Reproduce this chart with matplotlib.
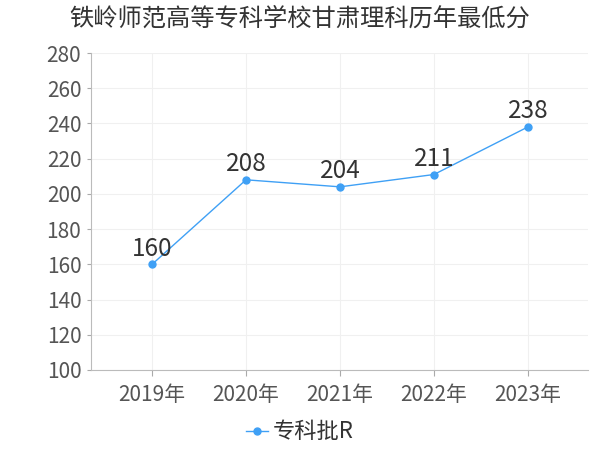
import matplotlib
matplotlib.use("Agg")
import matplotlib.pyplot as plt

plt.rcParams['font.family'] = ['Noto Sans CJK SC', 'DejaVu Sans']

title = "铁岭师范高等专科学校甘肃理科历年最低分"
years = ["2019年", "2020年", "2021年", "2022年", "2023年"]
scores = [160, 208, 204, 211, 238]
series_name = "专科批R"
yticks = [100, 120, 140, 160, 180, 200, 220, 240, 260, 280]

color = "#3fa0f5"
fig = plt.figure(figsize=(6, 4.5), dpi=100)
ax = fig.add_axes([91/600, 1-370/450, (588-91)/600, (370-53)/450])

x = list(range(len(years)))
ax.plot(x, scores, color=color, lw=1, marker='o', ms=5, label=series_name)
for xi, v in zip(x, scores):
    ax.text(xi, v + 1.5, str(v), ha='center', va='bottom', fontsize=17.5, color='#333333')

ax.set_xlim(-0.65, 4.64)
ax.set_ylim(100, 280)
ax.set_yticks(yticks)
ax.set_xticks(x)
ax.set_xticklabels(years)
ax.tick_params(axis='both', labelsize=15, colors='#555555', length=4, color='#aaaaaa')
ax.tick_params(axis='x', pad=6)
ax.tick_params(axis='y', length=3, pad=4)
ax.grid(True, color='#f0f0f0', lw=0.8)
ax.set_axisbelow(True)
for s in ['top', 'right']:
    ax.spines[s].set_visible(False)
for s in ['left', 'bottom']:
    ax.spines[s].set_color('#bbbbbb')

fig.text(0.5, 1-19/450, title, ha='center', va='center', fontsize=17.5, color='#333333')
leg = fig.legend(loc='center', bbox_to_anchor=(0.5, 1-432/450), frameon=False,
                 fontsize=16, handlelength=1.0, handletextpad=0.2)
for t in leg.get_texts():
    t.set_color('#333333')
fig.savefig("out.png", dpi=100)
